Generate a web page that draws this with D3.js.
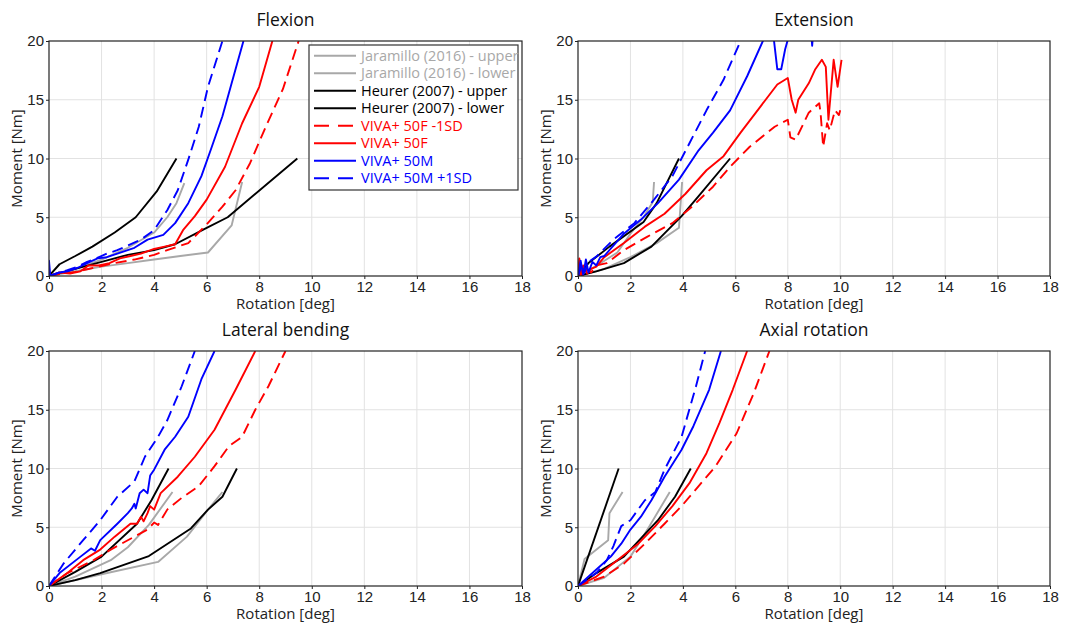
<!DOCTYPE html>
<html>
<head>
<meta charset="utf-8">
<script src="https://cdn.jsdelivr.net/npm/d3@7"></script>
<style>
  body { margin: 0; background: #fff; font-family: "Open Sans", "Noto Sans", sans-serif; }
  .grid line { stroke: #e2e2e2; stroke-width: 1; }
  .axis text { font-size: 15px; fill: #222; }
  .axis path { display: none; }
  .axis line { stroke: #222; }
</style>
</head>
<body>
<script>
// rotation [deg] vs moment [Nm]

var seriesNames = ["Jaramillo (2016) - upper", "Jaramillo (2016) - lower",
  "Heurer (2007) - upper", "Heurer (2007) - lower",
  "VIVA+ 50F -1SD", "VIVA+ 50F", "VIVA+ 50M", "VIVA+ 50M +1SD"];
var panelTitles = ["Flexion", "Extension", "Lateral bending", "Axial rotation"];
var xTicks = [0, 2, 4, 6, 8, 10, 12, 14, 16, 18];
var yTicks = [0, 5, 10, 15, 20];

// flexion
var flexJarUp = [[0,0],[1,0.6],[2,1.4],[3,2.4],[4,3.7],[4.5,5],[4.85,6.2],[5.15,7.9]];
var flexJarLow = [[0,0],[1,0.4],[2,0.8],[3,1.1],[4,1.4],[5,1.7],[6.05,2.0],[6.95,4.3],[7.35,8]];
var flexHeuUp = [[0,0],[0.4,1.0],[1,1.7],[1.65,2.5],[2.5,3.7],[3.3,5.0],[4.1,7.2],[4.85,10]];
var flexHeuLow = [[0,0],[1,0.6],[2,1.2],[3,1.8],[4,2.2],[4.8,2.7],[6,4.1],[6.8,5],[9.45,10]];
var flex50Fm = [[0,0],[0.5,0.2],[1,0.35],[1.5,0.6],[2,0.85],[2.5,1.1],[3.25,1.4],[4,1.8],[4.5,2.2],[5.3,2.8],[6,4.4],[6.6,5.9],[7.1,7.3],[7.65,9.6],[8.25,12.7],[8.9,15.9],[9.5,20]];
var flex50F = [[0,0],[0.4,0.3],[0.8,0.2],[1.2,0.4],[1.5,0.9],[1.9,0.9],[2.3,1.1],[2.7,1.5],[3.1,1.7],[3.5,1.9],[4,2.3],[4.4,2.5],[4.8,2.7],[5.1,3.9],[5.55,5.1],[6,6.5],[6.7,9.3],[7.35,13],[8,16.1],[8.5,20]];
var flex50M = [[0,0],[0,1.3],[0.05,0],[0.4,0.3],[0.7,0.4],[1.1,0.7],[1.45,1.1],[1.85,1.5],[2.2,1.6],[2.6,1.9],[3.25,2.4],[3.75,3.1],[4.35,3.5],[4.8,4.5],[5.3,6.2],[5.8,8.5],[6.15,10.7],[6.6,13.6],[6.95,16.4],[7.4,20]];
var flex50Mp = [[0,0],[0.4,0.3],[0.7,0.5],[1.1,0.8],[1.45,1.2],[1.8,1.5],[2.2,1.9],[2.6,2.2],[3,2.6],[3.5,3.1],[4,3.9],[4.5,5.6],[4.9,7.3],[5.3,9.9],[5.7,12.7],[6.05,16.1],[6.6,20]];

// extension
var extJarUp = [[0,0],[0.8,1],[1.5,2.0],[2.0,3.6],[2.5,5],[2.85,6.3],[2.9,8]];
var extJarLow = [[0,0],[1,0.6],[2,1.6],[3,2.8],[3.85,4.1],[3.97,8]];
var extHeuUp = [[0,0],[0.4,1.1],[1.2,2.5],[2.5,4.6],[3.0,6.2],[3.85,10]];
var extHeuLow = [[0,0],[0.7,0.4],[1.75,1.1],[2.8,2.5],[3.95,5.1],[4.6,6.8],[5.8,10]];
var ext50Fm = [[0,0],[0.1,1.2],[0.2,0],[0.35,0.6],[0.5,0.3],[0.7,0.9],[1.1,1.1],[1.75,2.2],[2.65,3.35],[3.6,4.5],[4.35,5.9],[5.15,7.6],[5.8,9.3],[6.55,11],[7.5,12.7],[8,13.3],[8.1,11.8],[8.3,11.6],[8.8,13.9],[9.2,14.7],[9.25,13.9],[9.35,11.0],[9.5,13],[9.6,12.4],[9.8,14.1],[9.95,13.7],[10,14.1]];
var ext50F = [[0,0],[0.05,1.5],[0.1,0],[0.2,0.9],[0.35,0.2],[0.5,0.6],[0.7,0.8],[1.0,1.6],[1.75,2.8],[2.55,4.2],[3.3,5.3],[4.1,7.0],[4.9,9.0],[5.55,10.2],[6.2,12.2],[6.95,14.4],[7.6,16.3],[8.0,16.85],[8.15,15],[8.3,13.9],[8.4,15],[8.8,16.4],[9.05,17.6],[9.3,18.4],[9.45,17.8],[9.55,13.3],[9.75,18.4],[9.9,16.1],[10.05,18.4]];
var ext50M = [[0,0],[0.1,1.3],[0.2,0.1],[0.3,1.4],[0.4,0.3],[0.55,1.2],[0.7,0.9],[0.85,1.6],[1.0,1.7],[1.75,3.6],[2.4,4.8],[3.05,6.2],[3.85,8.2],[4.6,10.7],[5.15,12.2],[5.8,14.1],[6.45,17],[7.05,20],[7.3,21],[7.45,20.5],[7.6,17.6],[7.75,17.6],[7.9,19.3],[8.05,20.5],[8.5,22],[8.9,20.5],[8.93,19.6],[8.96,20.5],[9.5,23],[10,24]];
var ext50Mp = [[0,0],[0.15,1.0],[0.25,0.3],[0.4,1.2],[0.7,1.65],[1.35,3.1],[2.15,4.5],[2.9,6.5],[3.6,8.5],[4.25,11.3],[4.9,14.1],[5.55,16.7],[6.2,20],[6.5,21.5]];

// lateral bending
var lbJarUp = [[0,0],[1,0.8],[2.35,2.2],[3,3.3],[3.8,5.2],[4.7,8]];
var lbJarLow = [[0,0],[2,1.0],[4.15,2.05],[5.25,4.2],[6.05,6.5],[6.6,8]];
var lbHeuUp = [[0,0],[1,1.2],[2,2.5],[3.35,5.3],[3.9,7.3],[4.55,10]];
var lbHeuLow = [[0,0],[1,0.5],[1.95,1.1],[3.8,2.55],[5.4,4.9],[6.05,6.5],[6.6,7.6],[7.15,10]];
var lb50Fm = [[0,0],[0.7,1.1],[1.7,2.2],[2.35,3.1],[3.25,4.2],[3.75,4.8],[4.0,5.4],[4.15,5.2],[4.5,6.5],[5.05,7.5],[5.7,8.5],[6.3,10.2],[6.85,11.9],[7.35,12.7],[7.85,15],[8.35,17],[9.0,20]];
var lb50F = [[0,0],[0.7,1.1],[1.3,2.2],[1.95,3.1],[2.5,4.2],[3.1,5.3],[3.35,5.3],[3.5,5.9],[3.6,5.5],[3.75,6.2],[3.85,6.8],[4.0,6.5],[4.25,7.9],[4.9,9.3],[5.55,11],[6.3,13.3],[7.1,16.7],[7.85,20]];
var lb50M = [[0,0],[0.4,1.1],[1.2,2.5],[1.6,3.2],[1.75,3.0],[1.95,3.9],[2.6,5.3],[3.0,6.2],[3.15,6.6],[3.25,7.0],[3.3,6.6],[3.45,7.9],[3.6,8.2],[3.75,7.9],[3.85,9.4],[4.0,9.9],[4.4,11.6],[4.8,12.7],[5.3,14.4],[5.8,17.6],[6.3,20]];
var lb50Mp = [[0,0],[0.55,1.9],[1.3,3.9],[1.95,5.6],[2.6,7.6],[3.25,8.9],[3.65,11],[4.15,12.7],[4.5,14.1],[5.05,17],[5.55,20]];

// axial rotation
var arJarUp = [[0,0],[0.25,2.3],[1.15,3.9],[1.2,6.2],[1.7,8]];
var arJarLow = [[0,0],[1,0.7],[2,2.5],[2.7,5],[3.5,8]];
var arHeuUp = [[0,0],[1.55,10]];
var arHeuLow = [[0,0],[0.7,1.1],[1.75,2.5],[3.05,5.6],[3.7,7.6],[4.3,10]];
var ar50Fm = [[0,0],[1,0.8],[1.75,1.9],[2.55,3.6],[3.3,5.3],[3.95,6.8],[4.6,8.5],[5.25,10.2],[6.05,13],[6.7,16.4],[7.3,20]];
var ar50F = [[0,0],[0.7,0.8],[1.5,2.2],[2.3,3.6],[2.95,5.1],[3.6,6.8],[4.25,8.75],[4.9,11.3],[5.4,13.9],[5.9,16.7],[6.45,20]];
var ar50M = [[0,0],[0.7,1.4],[1.25,2.5],[1.65,3.6],[2.0,4.8],[2.4,5.9],[2.8,7.3],[3.3,9.3],[3.95,11.6],[4.4,13.6],[5.0,16.7],[5.45,20]];
var ar50Mp = [[0,0],[0.7,1.1],[1.1,2.2],[1.35,3.4],[1.65,5.1],[2.0,5.6],[2.55,7.3],[2.95,8.0],[3.3,9.9],[3.95,12.7],[4.5,17],[4.85,20]];

var panelData = [
  [flexJarUp, flexJarLow, flexHeuUp, flexHeuLow, flex50Fm, flex50F, flex50M, flex50Mp],
  [extJarUp, extJarLow, extHeuUp, extHeuLow, ext50Fm, ext50F, ext50M, ext50Mp],
  [lbJarUp, lbJarLow, lbHeuUp, lbHeuLow, lb50Fm, lb50F, lb50M, lb50Mp],
  [arJarUp, arJarLow, arHeuUp, arHeuLow, ar50Fm, ar50F, ar50M, ar50Mp]
];

// line styles per series (same order as seriesNames)
var colors = ["#a8a8a8", "#a8a8a8", "#000", "#000", "#ff0000", "#ff0000", "#0000ff", "#0000ff"];
var dashes = [null, null, null, null, "11,6", null, null, "11,6"];

var width = 1067, height = 623;
var svg = d3.select("body").append("svg")
  .attr("width", width)
  .attr("height", height);

// plot areas: left, top, right, bottom
var boxes = [
  [49, 41, 522, 276],
  [578, 41, 1050, 276],
  [49, 351, 522, 586],
  [578, 351, 1050, 586]
];

boxes.forEach(function(b, p) {
  var x = d3.scaleLinear().domain([0, 18]).range([b[0], b[2]]);
  var y = d3.scaleLinear().domain([0, 20]).range([b[3], b[1]]);
  var g = svg.append("g");

  g.append("clipPath").attr("id", "clip" + p)
    .append("rect")
    .attr("x", b[0]).attr("y", b[1])
    .attr("width", b[2] - b[0]).attr("height", b[3] - b[1]);

  // grid
  var grid = g.append("g").attr("class", "grid");
  grid.selectAll("line.v").data(xTicks.slice(1, -1)).enter().append("line")
    .attr("x1", function(d) { return x(d); }).attr("x2", function(d) { return x(d); })
    .attr("y1", b[1]).attr("y2", b[3]);
  grid.selectAll("line.h").data(yTicks.slice(1, -1)).enter().append("line")
    .attr("x1", b[0]).attr("x2", b[2])
    .attr("y1", function(d) { return y(d); }).attr("y2", function(d) { return y(d); });

  // axes
  g.append("g").attr("class", "axis")
    .attr("transform", "translate(0," + b[3] + ")")
    .call(d3.axisBottom(x).tickValues(xTicks).tickSize(3).tickPadding(2).tickFormat(d3.format("d")));
  g.append("g").attr("class", "axis")
    .attr("transform", "translate(" + b[0] + ",0)")
    .call(d3.axisLeft(y).tickValues(yTicks).tickSize(3).tickPadding(2).tickFormat(d3.format("d")));

  // lines
  var line = d3.line()
    .x(function(d) { return x(d[0]); })
    .y(function(d) { return y(d[1]); });

  var lines = g.append("g").attr("clip-path", "url(#clip" + p + ")");
  panelData[p].forEach(function(s, i) {
    lines.append("path")
      .datum(s)
      .attr("d", line)
      .attr("fill", "none")
      .attr("stroke", colors[i])
      .attr("stroke-width", 1.9)
      .attr("stroke-linejoin", "round")
      .attr("stroke-dasharray", dashes[i]);
  });

  // frame
  g.append("rect")
    .attr("x", b[0]).attr("y", b[1])
    .attr("width", b[2] - b[0]).attr("height", b[3] - b[1])
    .attr("fill", "none").attr("stroke", "#222").attr("stroke-width", 1.2);

  // labels
  var cx = (b[0] + b[2]) / 2;
  g.append("text")
    .attr("x", cx).attr("y", b[1] - 15)
    .attr("text-anchor", "middle")
    .style("font-size", "17.5px").style("fill", "#111")
    .text(panelTitles[p]);
  g.append("text")
    .attr("x", cx).attr("y", b[3] + 33)
    .attr("text-anchor", "middle")
    .style("font-size", "15px").style("fill", "#222")
    .text("Rotation [deg]");
  g.append("text")
    .attr("transform", "translate(" + (b[0] - 27) + "," + ((b[1] + b[3]) / 2) + ") rotate(-90)")
    .attr("text-anchor", "middle")
    .style("font-size", "15px").style("fill", "#222")
    .text("Moment [Nm]");
});

// legend in the flexion panel
var leg = svg.append("g").attr("transform", "translate(309,45)");
leg.append("rect")
  .attr("width", 209).attr("height", 145)
  .attr("fill", "#fff").attr("stroke", "#333").attr("stroke-width", 1.2);

seriesNames.forEach(function(name, i) {
  var yy = 10.7 + i * 17.5;
  leg.append("line")
    .attr("x1", 5).attr("x2", 47)
    .attr("y1", yy).attr("y2", yy)
    .attr("stroke", colors[i]).attr("stroke-width", 1.9)
    .attr("stroke-dasharray", dashes[i] ? "15,9" : null);
  leg.append("text")
    .attr("x", 52).attr("y", yy + 5)
    .style("font-size", "14.5px")
    .style("fill", colors[i])
    .text(name);
});
</script>
</body>
</html>
